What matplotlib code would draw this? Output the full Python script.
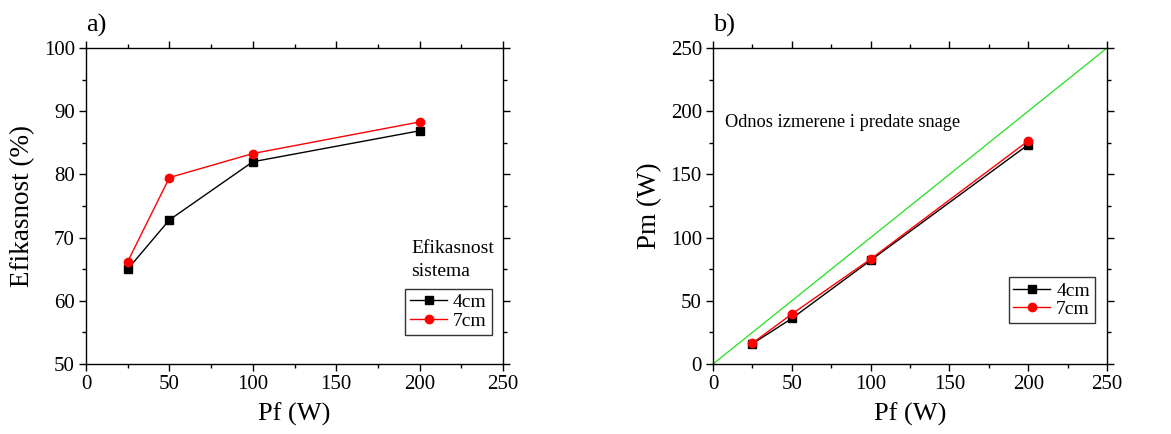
import matplotlib
matplotlib.use("Agg")
import matplotlib.pyplot as plt
from matplotlib.ticker import MultipleLocator

plt.rcParams['font.family'] = ['Liberation Serif', 'DejaVu Serif']

pf = [25, 50, 100, 200]
eff_4cm = [65.0, 72.8, 82.0, 86.9]
eff_7cm = [66.2, 79.5, 83.3, 88.3]
pm_4cm = [16.0, 36.0, 82.0, 173.5]
pm_7cm = [16.5, 39.5, 83.0, 176.5]
ideal_x = [0, 250]
ideal_y = [0, 250]

W, H = 1171, 434
fig = plt.figure(figsize=(W/100, H/100), dpi=100)

def frac(l, t, r, b):
    return [l/W, 1 - b/H, (r-l)/W, (b-t)/H]

axa = fig.add_axes(frac(86, 48, 503, 364))
axb = fig.add_axes(frac(713, 48, 1107, 364))

def style(ax):
    for s in ax.spines.values():
        s.set_linewidth(1.0)
    ax.tick_params(which='both', direction='out', top=True, right=True, labelsize=15, width=1.0)
    ax.tick_params(which='major', length=5, pad=3)
    ax.tick_params(which='minor', length=3)

leg_kw = dict(loc='upper left', fontsize=14, frameon=True, fancybox=False, edgecolor='black',
              handlelength=1.9, borderpad=0.25, labelspacing=0.05, handletextpad=0.3,
              borderaxespad=0.0)

# Panel a
axa.plot(pf, eff_4cm, color='black', marker='s', markersize=5.5, lw=1.0, label='4cm')
axa.plot(pf, eff_7cm, color='red', marker='o', markersize=6, lw=1.0, label='7cm')
axa.set_xlim(0, 250)
axa.set_ylim(50, 100)
axa.xaxis.set_major_locator(MultipleLocator(50))
axa.xaxis.set_minor_locator(MultipleLocator(25))
axa.yaxis.set_major_locator(MultipleLocator(10))
axa.yaxis.set_minor_locator(MultipleLocator(5))
style(axa)
axa.set_xlabel('Pf (W)', fontsize=19, labelpad=6)
axa.set_ylabel('Efikasnost (%)', fontsize=19.5, labelpad=6)
axa.text(0.0, 1.035, 'a)', transform=axa.transAxes, fontsize=19, ha='left', va='bottom')
axa.text(0.78, 0.33, 'Efikasnost\nsistema', transform=axa.transAxes, fontsize=14,
         ha='left', va='center', linespacing=1.45)
lg = axa.legend(bbox_to_anchor=(0.766, 0.238), **leg_kw)
lg.get_frame().set_linewidth(1.0)

# Panel b
axb.plot(ideal_x, ideal_y, color='#22e022', lw=0.9)
axb.plot(pf, pm_4cm, color='black', marker='s', markersize=5.5, lw=1.0, label='4cm')
axb.plot(pf, pm_7cm, color='red', marker='o', markersize=6, lw=1.0, label='7cm')
axb.set_xlim(0, 250)
axb.set_ylim(0, 250)
axb.xaxis.set_major_locator(MultipleLocator(50))
axb.xaxis.set_minor_locator(MultipleLocator(25))
axb.yaxis.set_major_locator(MultipleLocator(50))
axb.yaxis.set_minor_locator(MultipleLocator(25))
style(axb)
axb.set_xlabel('Pf (W)', fontsize=19, labelpad=6)
axb.set_ylabel('Pm (W)', fontsize=19.5, labelpad=6)
axb.text(0.0, 1.035, 'b)', transform=axb.transAxes, fontsize=19, ha='left', va='bottom')
axb.text(0.03, 0.765, 'Odnos izmerene i predate snage', transform=axb.transAxes, fontsize=13.2,
         ha='left', va='center')
lg2 = axb.legend(bbox_to_anchor=(0.75, 0.275), **leg_kw)
lg2.get_frame().set_linewidth(1.0)

fig.savefig('out.png', dpi=100)
